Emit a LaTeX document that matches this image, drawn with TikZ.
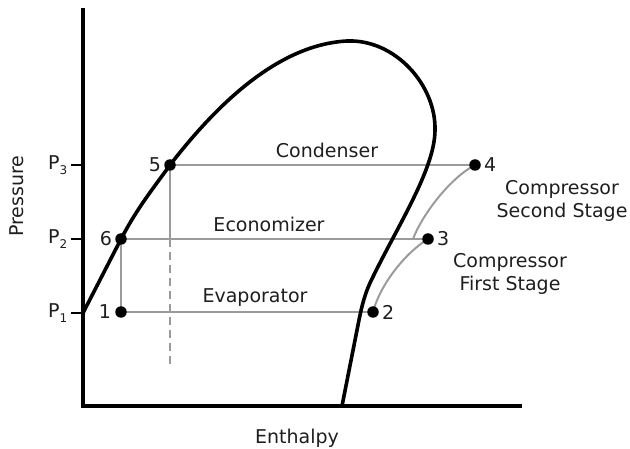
\documentclass[tikz,border=0pt]{standalone}
\usepackage{fontspec}
\setmainfont{DejaVu Sans}
\definecolor{procgray}{RGB}{155,155,155}
\definecolor{txt}{RGB}{30,30,30}
\newcommand{\Plab}[1]{P\raisebox{-5pt}{\fontsize{12}{12}\selectfont #1}}
\begin{document}
\begin{tikzpicture}[x=1pt,y=-1pt,
  axisline/.style={line width=4pt, line join=miter},
  domeline/.style={line width=3.6pt, line join=round, line cap=round},
  proc/.style={draw=procgray, line width=2pt},
  dashproc/.style={draw=procgray, line width=2pt, dash pattern=on 8pt off 5pt},
  tickline/.style={line width=1.5pt},
  dot/.style={circle, fill=black, inner sep=0pt, minimum size=11.5pt},
  lbl/.style={font=\fontsize{19}{23}\selectfont, inner sep=0pt, text=txt},
  numlbl/.style={font=\fontsize{19}{23}\selectfont, inner sep=0pt, text=txt},
]
\useasboundingbox (0,0) rectangle (630,449);

% axes
\coordinate (Ytop) at (83,8);
\coordinate (O) at (83,406);
\coordinate (Xend) at (522,406);

% state points
\coordinate (c1) at (121,312);
\coordinate (c2) at (373,312);
\coordinate (c3) at (428,239);
\coordinate (c4) at (475,165);
\coordinate (c5) at (170,165);
\coordinate (c6) at (121,239);
\coordinate (j)  at (413,239);
\coordinate (d1) at (170,239);
\coordinate (d2) at (170,367);

% tick positions
\coordinate (t1) at (83,313);
\coordinate (t2) at (83,239);
\coordinate (t3) at (83,165);

% process lines
\draw[proc] (c5) -- (c4);
\draw[proc] (c6) -- (c3);
\draw[proc] (c1) -- (c2);
\draw[proc] (c6) -- (c1);
\draw[proc] (c5) -- (d1);
\draw[dashproc] (d1) -- (d2);
\draw[proc] (c2) .. controls (380,285) and (405,253) .. (c3);
\draw[proc] (j) .. controls (422,215) and (450,178) .. (c4);

% saturation dome
\draw[domeline] (t1) -- (c6)
  .. controls (138,207) and (152,190) .. (c5)
  .. controls (205,120) and (270,45) .. (347,41)
  .. controls (395,39) and (436,85) .. (435,130)
  .. controls (435,170) and (395,230) .. (370,283)
  .. controls (365,294) and (362,305) .. (359,320)
  -- (342,406);

% axes
\draw[axisline] (Ytop) -- (O) -- (Xend);

% ticks
\draw[tickline] (t1) -- ++(-12,0);
\draw[tickline] (t2) -- ++(-12,0);
\draw[tickline] (t3) -- ++(-12,0);
\node[lbl, anchor=base east] (P1) at (67.5,318) {\Plab{1}};
\node[lbl, anchor=base east] (P2) at (67.5,244) {\Plab{2}};
\node[lbl, anchor=base east] (P3) at (67.5,170) {\Plab{3}};

% dots
\node[dot, label={[numlbl, label distance=4pt]left:1}] (p1) at (c1) {};
\node[dot, label={[numlbl, label distance=3pt]right:2}] (p2) at (c2) {};
\node[dot, label={[numlbl, label distance=3pt]right:3}] (p3) at (c3) {};
\node[dot, label={[numlbl, label distance=3pt]right:4}] (p4) at (c4) {};
\node[dot, label={[numlbl, label distance=3pt]left:5}] (p5) at (c5) {};
\node[dot, label={[numlbl, label distance=3pt]left:6}] (p6) at (c6) {};

% texts
\node[lbl] (cond) at (327,150) {Condenser};
\node[lbl] (econ) at (269,224) {Economizer};
\node[lbl] (evap) at (255,298) {Evaporator};
\node[lbl, align=center] (comp2) at (562,201) {Compressor\\Second Stage};
\node[lbl, align=center] (comp1) at (510,274) {Compressor\\First Stage};
\node[lbl, rotate=90] (pres) at (17,196) {Pressure};
\node[lbl] (enth) at (297,438) {Enthalpy};
\end{tikzpicture}
\end{document}
